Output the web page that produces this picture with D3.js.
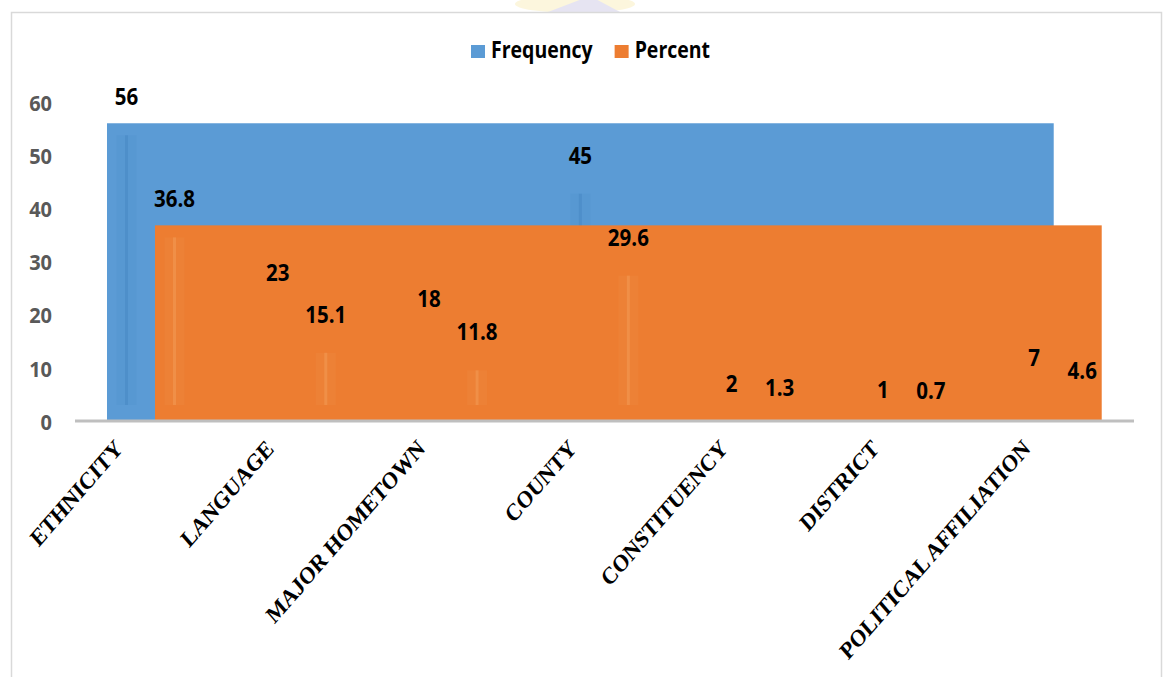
<!DOCTYPE html>
<html>
<head>
<meta charset="utf-8">
<script src="https://cdn.jsdelivr.net/npm/d3@7/dist/d3.min.js"></script>
<style>
  html, body { margin: 0; padding: 0; background: #ffffff; }
  svg { display: block; }
</style>
</head>
<body>
<div id="chart"></div>
<script>
// Categories of identity attachment and the two series reported for each
const categories = ["ETHNICITY", "LANGUAGE", "MAJOR HOMETOWN", "COUNTY", "CONSTITUENCY", "DISTRICT", "POLITICAL AFFILIATION"];
const frequency = [56, 23, 18, 45, 2, 1, 7];
const percent = [36.8, 15.1, 11.8, 29.6, 1.3, 0.7, 4.6];
const seriesNames = ["Frequency", "Percent"];
const yTicks = [0, 10, 20, 30, 40, 50, 60];

const W = 1165, H = 677;
const colors = { Frequency: "#5b9bd5", Percent: "#ed7d31" };
const streakColors = { Frequency: "#3f7dbd", Percent: "#f7a866" };
const stretch = 1.15; // glyphs are drawn slightly tall

const svg = d3.select("#chart").append("svg")
  .attr("width", W).attr("height", H);

svg.append("rect").attr("width", W).attr("height", H).attr("fill", "#ffffff");

// faint emblem peeking above the frame
const emblem = svg.append("g").attr("opacity", 0.35);
emblem.append("ellipse").attr("cx", 575).attr("cy", 4).attr("rx", 60).attr("ry", 9).attr("fill", "#f7e7a0");
emblem.append("path").attr("d", "M548,12 L590,-4 L620,12 Z").attr("fill", "#b8b4dc");

// chart frame
svg.append("rect")
  .attr("x", 11.5).attr("y", 12.5).attr("width", 1150).attr("height", 700)
  .attr("fill", "none").attr("stroke", "#d9d9d9").attr("stroke-width", 1.5);

const x0 = d3.scaleBand().domain(categories).range([75, 1134]).paddingInner(0).paddingOuter(0);
const bw = x0.bandwidth();
const x1 = d3.scaleBand().domain(seriesNames)
  .range([bw * 0.2115, bw * 0.7866]).paddingInner(0.1875).paddingOuter(0);
const y = d3.scaleLinear().domain([0, 60]).range([421, 102]);

const seriesData = seriesNames.map(name => ({
  name,
  values: categories.map((c, i) => ({ cat: c, v: name === "Frequency" ? frequency[i] : percent[i] }))
}));

// Each series is painted as a band running across every category up to the series peak,
// with thin streaks marking the individual bars inside it.
seriesData.forEach(s => {
  const first = categories[0], last = categories[categories.length - 1];
  const peak = d3.max(s.values, d => d.v);
  const xl = x0(first) + x1(s.name);
  const xr = x0(last) + x1(s.name) + x1.bandwidth();
  svg.append("rect")
    .attr("x", xl).attr("y", y(peak))
    .attr("width", xr - xl).attr("height", y(0) - y(peak))
    .attr("fill", colors[s.name]);

  const g = svg.append("g");
  s.values.forEach(d => {
    const cx = x0(d.cat) + x1(s.name) + x1.bandwidth() / 2;
    const top = y(d.v) + 12, bot = y(0) - 16;
    if (bot - top <= 2) return;
    g.append("rect")
      .attr("x", cx - 10).attr("y", top).attr("width", 20).attr("height", bot - top)
      .attr("fill", streakColors[s.name]).attr("opacity", 0.1);
    g.append("rect")
      .attr("x", cx - 1.5).attr("y", top).attr("width", 3).attr("height", bot - top)
      .attr("fill", streakColors[s.name]).attr("opacity", 0.35);
  });
});

// category axis line
svg.append("line")
  .attr("x1", 75).attr("x2", 1134).attr("y1", y(0)).attr("y2", y(0))
  .attr("stroke", "#bfbfbf").attr("stroke-width", 3);

// value axis labels
const yAxis = d3.axisLeft(y).tickValues(yTicks).tickSize(0).tickPadding(0).tickFormat(d3.format("d"));
const yg = svg.append("g").attr("transform", "translate(52,0)").call(yAxis);
yg.select(".domain").remove();
yg.selectAll(".tick text")
  .attr("x", 0).attr("y", 0).attr("dy", null)
  .attr("transform", "scale(1,1.08)")
  .attr("fill", "#595959")
  .attr("dominant-baseline", "central")
  .style("font-family", "'Open Sans', sans-serif").style("font-weight", 700).style("font-size", "20px");

// category labels, tilted
const xg = svg.append("g");
categories.forEach(c => {
  const cx = x0(c) + bw / 2 - 27;
  xg.append("text")
    .attr("transform", `translate(${cx},450) scale(1,${stretch}) rotate(-45)`)
    .attr("text-anchor", "end")
    .style("font-family", "'Liberation Serif', 'Times New Roman', serif")
    .style("font-weight", 700).style("font-size", "21px")
    .attr("fill", "#000")
    .text(c);
});

// value labels above each bar position
seriesData.forEach(s => {
  s.values.forEach(d => {
    const cx = x0(d.cat) + x1(s.name) + x1.bandwidth() / 2;
    svg.append("text")
      .attr("transform", `translate(${cx},${y(d.v) - 18}) scale(1,${stretch})`)
      .attr("text-anchor", "middle")
      .style("font-family", "'Open Sans', sans-serif")
      .style("font-weight", 700).style("font-size", "20.5px")
      .attr("fill", "#000")
      .text(d.v);
  });
});

// legend
const legend = svg.append("g");
let lx = 471;
seriesNames.forEach(name => {
  legend.append("rect")
    .attr("x", lx).attr("y", 45).attr("width", 14).attr("height", 13)
    .attr("fill", colors[name]);
  const t = legend.append("text")
    .attr("transform", `translate(${lx + 20},58) scale(1,${stretch})`)
    .style("font-family", "'Open Sans', sans-serif")
    .style("font-weight", 700).style("font-size", "19.5px")
    .attr("fill", "#000")
    .text(name);
  lx += 20 + t.node().getComputedTextLength() + 22;
});
</script>
</body>
</html>
